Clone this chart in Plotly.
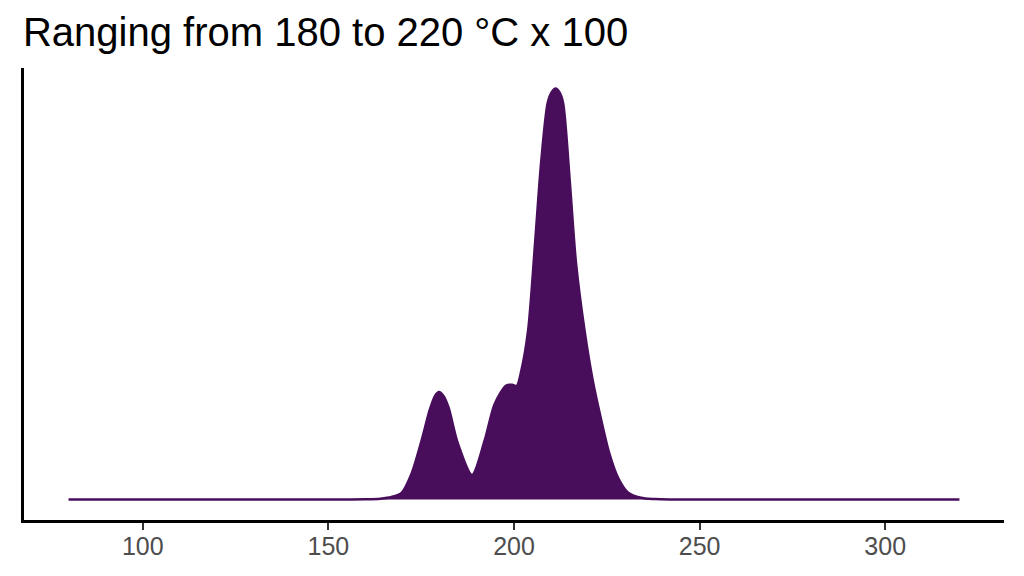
import plotly.graph_objects as go

# density curve (temperature in x, density in y)
temps = [80, 100, 120, 140, 150, 160, 164, 167, 169.7, 172.4, 175.1, 177.3,
         178.7, 179.8, 180.9, 182.3, 184.9, 188.7, 192.1, 194.8, 197.9, 199.5,
         200.7, 202.0, 203.8, 205.6, 207.3, 209.1, 210.2, 211.2, 212.2, 213.2,
         215.0, 216.7, 219.0, 221.2, 223.5, 225.7, 228.0, 230.6, 234.2, 238, 242,
         250, 280, 320]
density = [0, 0, 0, 0, 0, 0.00003, 0.00012, 0.00037, 0.00099, 0.0039, 0.0089, 0.0135,
           0.0156, 0.0162, 0.0157, 0.0140, 0.0084, 0.0037, 0.0089, 0.0144, 0.0172, 0.0173,
           0.0171, 0.0195, 0.0255, 0.0381, 0.0508, 0.0599, 0.0615, 0.0620, 0.0615, 0.0599,
           0.0482, 0.0357, 0.0255, 0.0180, 0.0120, 0.0069, 0.0033, 0.0011, 0.00025, 0.00006, 0,
           0, 0, 0]
tick_vals = [100, 150, 200, 250, 300]

purple = "#480E5C"
font_family = "Liberation Sans, Arial, sans-serif"

fig = go.Figure()

fig.add_trace(go.Scatter(
    x=temps,
    y=density,
    mode="lines",
    line=dict(color=purple, width=2.5, shape="spline", smoothing=0.8),
    fill="tozeroy",
    fillcolor=purple,
    showlegend=False,
    hoverinfo="skip"
))

# the page body adds an 8px offset, margins compensate for it
ymax = max(density)
fig.update_layout(
    width=1024,
    height=576,
    paper_bgcolor="white",
    plot_bgcolor="white",
    margin=dict(l=16, r=28, t=60, b=64),
    title=dict(
        text="Ranging from 180 to 220 °C x 100",
        x=0.0146, xanchor="left", y=0.958, yanchor="middle",
        font=dict(family=font_family, size=40, color="black")
    ),
    xaxis=dict(
        range=[68, 332],
        tickvals=tick_vals,
        showgrid=False, zeroline=False,
        showline=True, linecolor="black", linewidth=2.8,
        ticks="outside", ticklen=7, tickwidth=2.2, tickcolor="#333333",
        ticklabelstandoff=-5,
        tickfont=dict(family=font_family, size=25, color="#4D4D4D")
    ),
    yaxis=dict(
        range=[-0.05 * ymax, 1.05 * ymax],
        showticklabels=False, ticks="",
        showgrid=False, zeroline=False,
        showline=True, linecolor="black", linewidth=2.8
    )
)

fig.write_html("out.html")
